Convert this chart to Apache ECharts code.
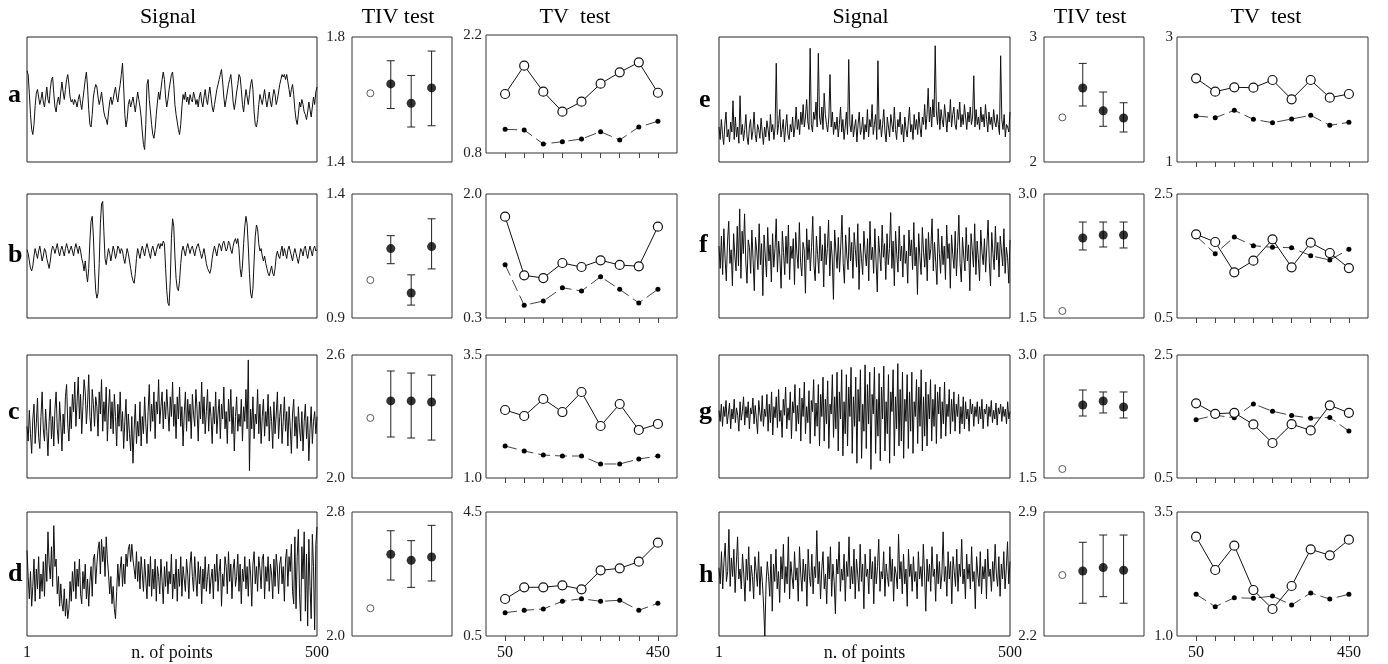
<!DOCTYPE html>
<html><head><meta charset="utf-8">
<script src="https://cdn.jsdelivr.net/npm/echarts@6/dist/echarts.min.js"></script>
<style>html,body{margin:0;padding:0;background:#fff}#c{width:1388px;height:664px}</style>
</head><body><div id="c"></div>
<script>
// ---------------- DATA ----------------
const rowNames = ['a','b','c','d','e','f','g','h'];
const signalLabels = ['1','500'];
const signalAxisName = 'n. of points';
const tvX = [50,100,150,200,250,300,350,400,450];
const tvXLabels = [50,450];

// signal traces (relative amplitude, 0 = bottom of panel, 100 = top), sampled along 1..500
const sigA = [73,70,55,38,26,22,30,45,55,58,52,46,50,56,48,44,52,60,50,47,58,66,68,55,44,40,48,52,46,56,64,56,50,58,66,70,62,52,48,50,46,50,48,44,50,54,47,42,50,58,66,72,60,42,30,28,38,52,58,62,60,52,46,50,56,48,40,36,34,30,40,48,52,46,50,56,60,52,48,56,62,70,79,60,38,28,34,46,50,44,48,52,46,40,48,56,50,44,36,24,14,10,30,62,66,50,40,30,22,19,26,38,48,56,50,58,66,72,66,52,44,50,58,64,70,72,62,46,38,32,26,22,30,44,54,50,56,48,52,46,54,50,48,56,52,46,50,44,52,56,48,44,52,58,50,46,54,60,52,44,40,46,52,58,62,66,70,74,64,52,44,50,56,62,66,70,60,48,42,48,56,62,70,68,58,46,40,50,58,52,46,54,62,66,58,40,30,28,34,46,54,50,46,52,58,50,44,50,56,48,44,52,58,54,46,50,56,62,66,70,68,70,66,70,64,58,52,58,62,54,42,34,30,38,48,44,50,46,40,38,34,40,48,42,36,44,52,46,56,60];
const sigB = [55,52,46,40,38,42,50,56,52,48,54,58,52,46,50,56,54,48,44,40,46,54,58,56,52,56,60,54,50,55,58,54,50,56,60,56,52,55,58,54,50,56,60,56,52,58,54,48,44,38,46,36,29,40,62,78,82,66,40,22,16,20,44,76,92,94,70,48,43,50,56,52,46,52,58,54,48,52,58,56,52,56,54,48,44,50,56,52,46,40,34,30,28,36,48,56,52,48,54,58,54,50,56,60,56,52,48,55,58,54,50,54,58,60,56,60,58,62,60,40,22,12,10,30,64,80,74,50,32,24,22,30,44,54,58,54,50,56,60,56,52,56,58,54,50,55,58,60,56,52,48,52,56,50,44,40,38,36,40,48,54,58,54,50,56,60,58,54,60,62,58,54,56,62,60,55,52,58,62,64,60,64,56,40,33,42,60,74,82,76,58,36,20,16,24,46,66,75,72,60,54,56,50,46,50,44,40,36,34,38,42,36,34,40,50,54,50,48,54,58,50,56,52,48,55,58,54,50,46,52,56,52,48,44,50,56,54,50,56,58,52,48,54,58,54,50,56,58,54,55];
const sigC = [42,30,55,36,20,48,60,28,44,65,33,24,50,70,40,30,56,38,18,46,64,32,50,26,56,70,40,28,62,45,22,52,36,66,76,44,30,58,40,68,54,78,42,62,82,48,68,36,58,80,70,44,60,84,50,38,72,60,42,66,58,34,70,52,80,38,62,46,74,30,56,72,40,62,36,68,50,26,60,42,70,38,54,24,46,64,30,52,36,22,50,12,40,60,28,46,34,62,26,50,36,66,44,28,54,76,38,60,46,70,32,62,52,80,44,58,70,40,62,48,72,54,38,66,50,78,42,60,32,66,48,74,42,58,26,52,70,38,64,46,60,32,68,52,42,72,56,30,62,48,78,44,66,36,54,72,38,62,50,28,58,44,70,36,52,64,32,60,48,74,40,54,28,64,46,72,36,58,22,50,66,38,52,42,64,30,58,46,72,40,96,6,56,40,66,32,52,44,72,36,60,28,50,64,34,54,42,68,30,58,46,24,62,36,52,70,32,50,60,28,46,66,38,54,26,58,42,20,52,64,34,50,24,58,40,30,54,22,46,60,32,50,14,40,58,28,46,54,36,50];
const sigD = [69,48,30,52,24,40,62,28,54,38,64,30,50,36,60,32,66,44,84,58,46,72,40,89,56,62,34,48,24,42,26,20,38,16,30,14,22,44,28,52,36,60,30,54,40,62,34,26,52,38,58,30,46,24,44,56,32,62,66,42,58,70,76,50,78,60,72,48,80,62,50,34,48,26,40,22,14,36,58,40,54,64,40,58,42,66,56,70,74,60,74,62,54,46,68,44,60,38,64,50,36,62,46,30,58,40,64,32,54,38,62,28,56,48,34,62,44,26,56,40,60,34,52,42,66,30,50,38,62,28,54,40,64,32,56,46,36,62,50,30,58,68,48,36,64,46,32,60,42,56,26,54,38,64,36,48,58,34,46,54,30,58,44,66,36,52,62,24,50,40,64,56,34,68,44,58,30,54,62,40,48,66,36,58,26,54,44,64,38,56,32,62,50,24,58,68,42,56,36,64,54,38,62,66,30,56,44,64,36,58,50,30,62,40,66,54,34,58,64,42,56,28,62,70,40,64,52,74,36,26,80,22,64,86,34,12,72,46,84,20,66,8,78,40,14,82,56,5,74,88];
const sigE = [28,18,34,22,14,30,40,20,26,16,32,24,49,18,36,20,28,15,53,22,30,17,26,38,20,14,28,34,18,25,40,22,16,30,26,19,35,24,14,28,20,33,26,17,38,24,30,18,28,79,22,30,42,20,26,34,16,28,38,22,18,30,24,36,20,28,44,26,34,22,40,30,46,28,36,50,32,26,91,30,24,40,34,48,28,87,36,30,44,26,55,38,30,24,36,70,28,40,22,32,26,36,20,30,44,24,34,18,28,40,22,82,30,24,38,20,28,34,16,30,40,22,26,36,18,30,24,42,20,34,28,46,22,30,38,18,81,26,34,20,30,42,24,16,36,28,20,38,30,24,44,26,18,34,28,40,22,30,16,36,26,20,32,44,24,30,18,38,26,34,22,40,28,20,36,30,46,26,38,59,32,44,28,50,36,93,40,30,48,26,42,34,28,46,36,24,40,32,50,28,38,44,30,26,42,34,48,28,38,30,46,36,26,40,32,44,30,36,69,28,42,30,36,26,44,32,38,28,46,34,24,40,30,36,26,42,32,28,38,30,22,85,34,26,38,20,30,28,24,40];
const sigF = [58,40,66,35,72,48,30,62,78,44,55,26,68,50,38,74,42,88,32,70,52,84,45,28,63,57,36,71,47,22,65,54,39,76,43,60,18,67,50,33,73,46,59,29,68,41,56,80,37,62,49,24,70,53,35,66,44,75,31,58,48,64,27,69,52,40,77,45,34,61,55,20,72,47,63,38,57,82,42,30,66,51,36,74,46,59,25,68,43,56,79,34,62,49,15,71,54,40,65,37,58,83,44,28,67,50,39,73,46,61,32,69,55,41,76,23,60,48,35,70,53,42,64,30,78,47,57,36,72,45,21,66,52,38,75,49,60,31,68,43,56,85,40,62,26,70,51,37,74,46,58,33,67,44,54,28,71,50,63,39,77,42,57,19,68,49,35,73,53,41,64,30,69,47,56,80,38,61,45,27,72,52,36,66,43,58,31,75,48,60,24,67,51,40,70,34,57,83,44,29,65,50,38,73,46,59,22,68,55,41,76,35,62,48,30,71,53,43,64,37,58,79,45,26,69,52,39,74,47,61,33,66,54,42,72,36,57,49,28,63];
const sigG = [55,46,60,42,58,50,63,44,52,61,40,56,48,64,45,57,51,38,62,47,54,66,43,58,49,62,40,57,52,65,44,59,48,36,63,53,46,67,42,56,50,68,38,60,45,70,35,58,49,66,41,72,46,55,33,64,51,74,40,57,47,70,32,62,53,76,38,59,44,73,30,65,50,78,36,58,45,71,28,63,54,80,34,61,42,76,26,68,50,82,30,64,44,79,24,60,52,84,33,66,40,86,22,70,48,88,18,62,36,84,26,74,50,90,20,66,42,82,12,72,46,88,16,60,38,92,24,76,44,86,7,68,52,90,20,64,34,85,14,74,48,91,22,62,36,84,12,70,54,88,18,66,40,93,26,72,30,86,16,64,46,84,24,70,38,86,20,62,50,80,28,74,42,88,22,66,34,78,26,68,48,80,30,64,42,76,28,70,52,74,32,62,44,78,34,60,50,72,36,64,46,70,38,60,50,68,36,58,44,66,40,62,48,56,38,64,52,60,42,58,50,62,44,58,48,64,40,56,52,60,42,58,50,63,45,55,48,61,43,57,52,60,46,58,50,56,44,62,48,54];
const sigH = [55,42,68,38,60,75,44,52,86,40,63,48,70,35,58,80,46,54,38,66,50,28,62,45,72,36,57,48,30,64,52,40,68,33,56,44,25,0,42,60,48,32,66,20,58,44,70,38,52,27,64,46,74,35,56,42,80,30,60,48,38,68,45,55,28,72,50,36,62,44,58,24,70,48,40,66,34,56,47,85,42,60,30,54,68,38,50,26,64,46,72,32,58,44,18,62,50,76,36,54,45,66,28,60,48,80,38,56,42,70,30,62,50,36,74,44,58,22,66,48,54,34,70,46,60,26,64,42,56,78,36,52,46,68,32,58,48,40,72,44,62,28,56,50,38,82,46,60,34,66,42,54,24,70,48,58,36,64,44,52,30,68,46,56,40,74,50,20,62,44,58,36,72,48,54,28,66,42,60,38,50,84,44,56,32,68,46,60,26,64,52,40,70,36,58,48,78,42,54,30,66,46,58,38,72,44,52,22,64,50,40,68,34,56,46,62,30,70,48,54,36,60,44,74,50,40,64,32,58,46,68,38,54,76,42,60];
const signals = [sigA,sigB,sigC,sigD,sigE,sigF,sigG,sigH];

// TIV test: open circle value, then three estimates with error bars
const tivOpen = [1.62,1.053,2.293,2.179,2.357,1.585,1.61,2.544];
const tivMean = [[1.650,1.588,1.637],[1.180,1.001,1.188],[2.376,2.376,2.371],[2.527,2.488,2.510],[2.592,2.410,2.352],[2.468,2.504,2.504],[2.390,2.439,2.366],[2.567,2.586,2.571]];
const tivLow  = [[1.571,1.512,1.516],[1.119,0.952,1.098],[2.200,2.195,2.185],[2.361,2.314,2.355],[2.448,2.286,2.240],[2.323,2.359,2.347],[2.256,2.293,2.232],[2.385,2.422,2.385]];
const tivHigh = [[1.724,1.677,1.755],[1.232,1.074,1.300],[2.522,2.512,2.502],[2.679,2.615,2.714],[2.789,2.560,2.474],[2.661,2.661,2.661],[2.573,2.549,2.549],[2.729,2.770,2.770]];
const tivTicks = [['1.8','1.4'],['1.4','0.9'],['2.6','2.0'],['2.8','2.0'],['3','2'],['3.0','1.5'],['3.0','1.5'],['2.9','2.2']];

// TV test: open circles (solid line) and dots (dashed line) at n = 50..450
const tvOpen = [
 [1.500,1.836,1.527,1.290,1.409,1.622,1.757,1.876,1.515],
 [1.689,0.885,0.848,1.054,0.999,1.091,1.027,1.009,1.552],
 [2.382,2.260,2.606,2.341,2.748,2.057,2.504,1.976,2.098],
 [1.694,2.071,2.071,2.135,2.006,2.619,2.684,2.897,3.510],
 [2.339,2.125,2.195,2.189,2.312,2.003,2.312,2.029,2.088],
 [1.850,1.726,1.237,1.424,1.769,1.318,1.715,1.548,1.306],
 [1.715,1.544,1.560,1.371,1.069,1.376,1.274,1.682,1.560],
 [3.002,2.331,2.821,1.927,1.544,2.008,2.748,2.627,2.942]
];
const tvDot = [
 [1.081,1.073,0.907,0.934,0.966,1.053,0.954,1.108,1.176],
 [1.031,0.474,0.533,0.715,0.670,0.866,0.693,0.506,0.693],
 [1.650,1.549,1.467,1.447,1.447,1.285,1.285,1.386,1.447],
 [1.252,1.329,1.371,1.619,1.703,1.619,1.652,1.329,1.555],
 [1.736,1.709,1.827,1.683,1.629,1.688,1.747,1.587,1.635],
 [1.823,1.537,1.806,1.666,1.640,1.634,1.505,1.435,1.608],
 [1.447,1.521,1.479,1.705,1.585,1.516,1.473,1.484,1.263],
 [1.841,1.591,1.772,1.760,1.806,1.625,1.867,1.746,1.841]
];
const tvTicks = [['2.2','0.8'],['2.0','0.3'],['3.5','1.0'],['4.5','0.5'],['3','1'],['2.5','0.5'],['2.5','0.5'],['3.5','1.0']];

const titles = ['Signal','TIV test','TV  test'];

// ---------------- LAYOUT ----------------
const SERIF = '"Liberation Serif","Times New Roman",serif';
const cols = [{sig:27,sigW:290,tiv:352,tv:486},{sig:719,sigW:291,tiv:1044,tv:1177}];
const rowTop = [37,194,355,512], rowH = [125,124,123,124];
const letterY = [95,255,412,574,100,245,412,575];

const grids=[], xAxes=[], yAxes=[], series=[];
function addGrid(left,top,width,height,color){
  grids.push({left,top,width,height,show:true,borderColor:color,borderWidth:1,backgroundColor:'transparent'});
  return grids.length-1;
}
const lblStyle = {fontFamily:SERIF,fontSize:15,color:'#222'};
function tickAxis(g,labs,margin){
  const hi=parseFloat(labs[0]), lo=parseFloat(labs[1]);
  return {gridIndex:g,type:'value',min:lo,max:hi,axisLine:{show:false},axisTick:{show:false},splitLine:{show:false},
    axisLabel:Object.assign({customValues:[lo,hi],margin:margin,formatter:v=>Math.abs(v-hi)<1e-9?labs[0]:labs[1]},lblStyle)};
}

for(let r=0;r<8;r++){
  const c=cols[r<4?0:1], row=r%4, bottom=(row===3);
  const top=rowTop[row], h=rowH[row];
  // signal
  let g=addGrid(c.sig,top,c.sigW,h,'#222');
  xAxes.push({gridIndex:g,type:'value',min:1,max:500,axisLine:{show:false},splitLine:{show:false},
    axisTick:{show:bottom,customValues:[1,500],length:0},
    axisLabel: bottom?{customValues:[1,500],margin:9,fontSize:16,fontFamily:SERIF,color:'#111',
      formatter:v=>v===1?signalLabels[0]:signalLabels[1]}:{show:false}});
  yAxes.push({gridIndex:g,type:'value',min:0,max:100,show:false});
  const s=signals[r], n=s.length;
  series.push({type:'line',xAxisIndex:g,yAxisIndex:g,data:s.map((v,i)=>[1+i*499/(n-1),v]),showSymbol:false,symbol:'none',
    lineStyle:{color:'#111',width:1},silent:true,z:2});
  // TIV
  g=addGrid(c.tiv,top,100,h,'#333');
  xAxes.push({gridIndex:g,type:'value',min:0.1,max:5,show:false});
  yAxes.push(tickAxis(g,tivTicks[r],7));
  series.push({type:'scatter',xAxisIndex:g,yAxisIndex:g,data:[[1,tivOpen[r]]],symbolSize:7,
    itemStyle:{color:'#fff',borderColor:'#333',borderWidth:1},z:3});
  series.push({type:'custom',xAxisIndex:g,yAxisIndex:g,data:tivMean[r].map((m,i)=>[i+2,tivLow[r][i],tivHigh[r][i]]),
    encode:{x:0,y:[1,2]},z:2,silent:true,
    renderItem:(p,api)=>{const x=api.value(0);const a=api.coord([x,api.value(1)]);const b=api.coord([x,api.value(2)]);const w=4;
      const st={stroke:'#222',lineWidth:1};
      return {type:'group',children:[
        {type:'line',shape:{x1:a[0],y1:a[1],x2:b[0],y2:b[1]},style:st},
        {type:'line',shape:{x1:a[0]-w,y1:a[1],x2:a[0]+w,y2:a[1]},style:st},
        {type:'line',shape:{x1:b[0]-w,y1:b[1],x2:b[0]+w,y2:b[1]},style:st}]};}});
  series.push({type:'scatter',xAxisIndex:g,yAxisIndex:g,data:tivMean[r].map((m,i)=>[i+2,m]),symbolSize:9,
    itemStyle:{color:'#000'},z:4});
  // TV
  const tvTop = (r===0)?35:top, tvH=(r===0)?118:h;
  g=addGrid(c.tv,tvTop,191,tvH,'#333');
  xAxes.push({gridIndex:g,type:'value',min:0,max:500,axisLine:{show:false},splitLine:{show:false},
    axisTick:{show:true,customValues:tvX,length:5,lineStyle:{color:'#444',width:1}},
    axisLabel: bottom?{customValues:tvXLabels,margin:9,fontSize:16,fontFamily:SERIF,color:'#111'}:{show:false}});
  yAxes.push(tickAxis(g,tvTicks[r],4));
  series.push({type:'line',xAxisIndex:g,yAxisIndex:g,data:tvX.map((x,i)=>[x,tvDot[r][i]]),symbol:'circle',symbolSize:5,
    itemStyle:{color:'#000'},lineStyle:{color:'#444',width:1,type:[12,5]},z:2});
  series.push({type:'line',xAxisIndex:g,yAxisIndex:g,data:tvX.map((x,i)=>[x,tvOpen[r][i]]),symbol:'circle',symbolSize:9,
    itemStyle:{color:'#fff',borderColor:'#111',borderWidth:1.2},lineStyle:{color:'#111',width:1},z:3});
}

const graphics=[];
cols.forEach(c=>{
  const centers=[c.sig+c.sigW/2-4, c.tiv+50-4, c.tv+95-6];
  titles.forEach((t,i)=>graphics.push({type:'text',x:centers[i],y:17,silent:true,
    style:{text:t,font:'22px '+SERIF,fill:'#000',textAlign:'center',align:'center',textVerticalAlign:'middle',verticalAlign:'middle'}}));
  graphics.push({type:'text',x:c.sig+c.sigW/2,y:653,silent:true,
    style:{text:signalAxisName,font:'18px '+SERIF,fill:'#111',textAlign:'center',align:'center',textVerticalAlign:'middle',verticalAlign:'middle'}});
});
rowNames.forEach((t,r)=>graphics.push({type:'text',x:r<4?8:699,y:letterY[r],silent:true,
  style:{text:t,font:'bold 26px '+SERIF,fill:'#000',textAlign:'left',align:'left',textVerticalAlign:'middle',verticalAlign:'middle'}}));

const chart=echarts.init(document.getElementById('c'),null,{renderer:'canvas'});
chart.setOption({animation:false,backgroundColor:'#fff',grid:grids,xAxis:xAxes,yAxis:yAxes,series:series,graphic:graphics,tooltip:{show:false}});
</script></body></html>
